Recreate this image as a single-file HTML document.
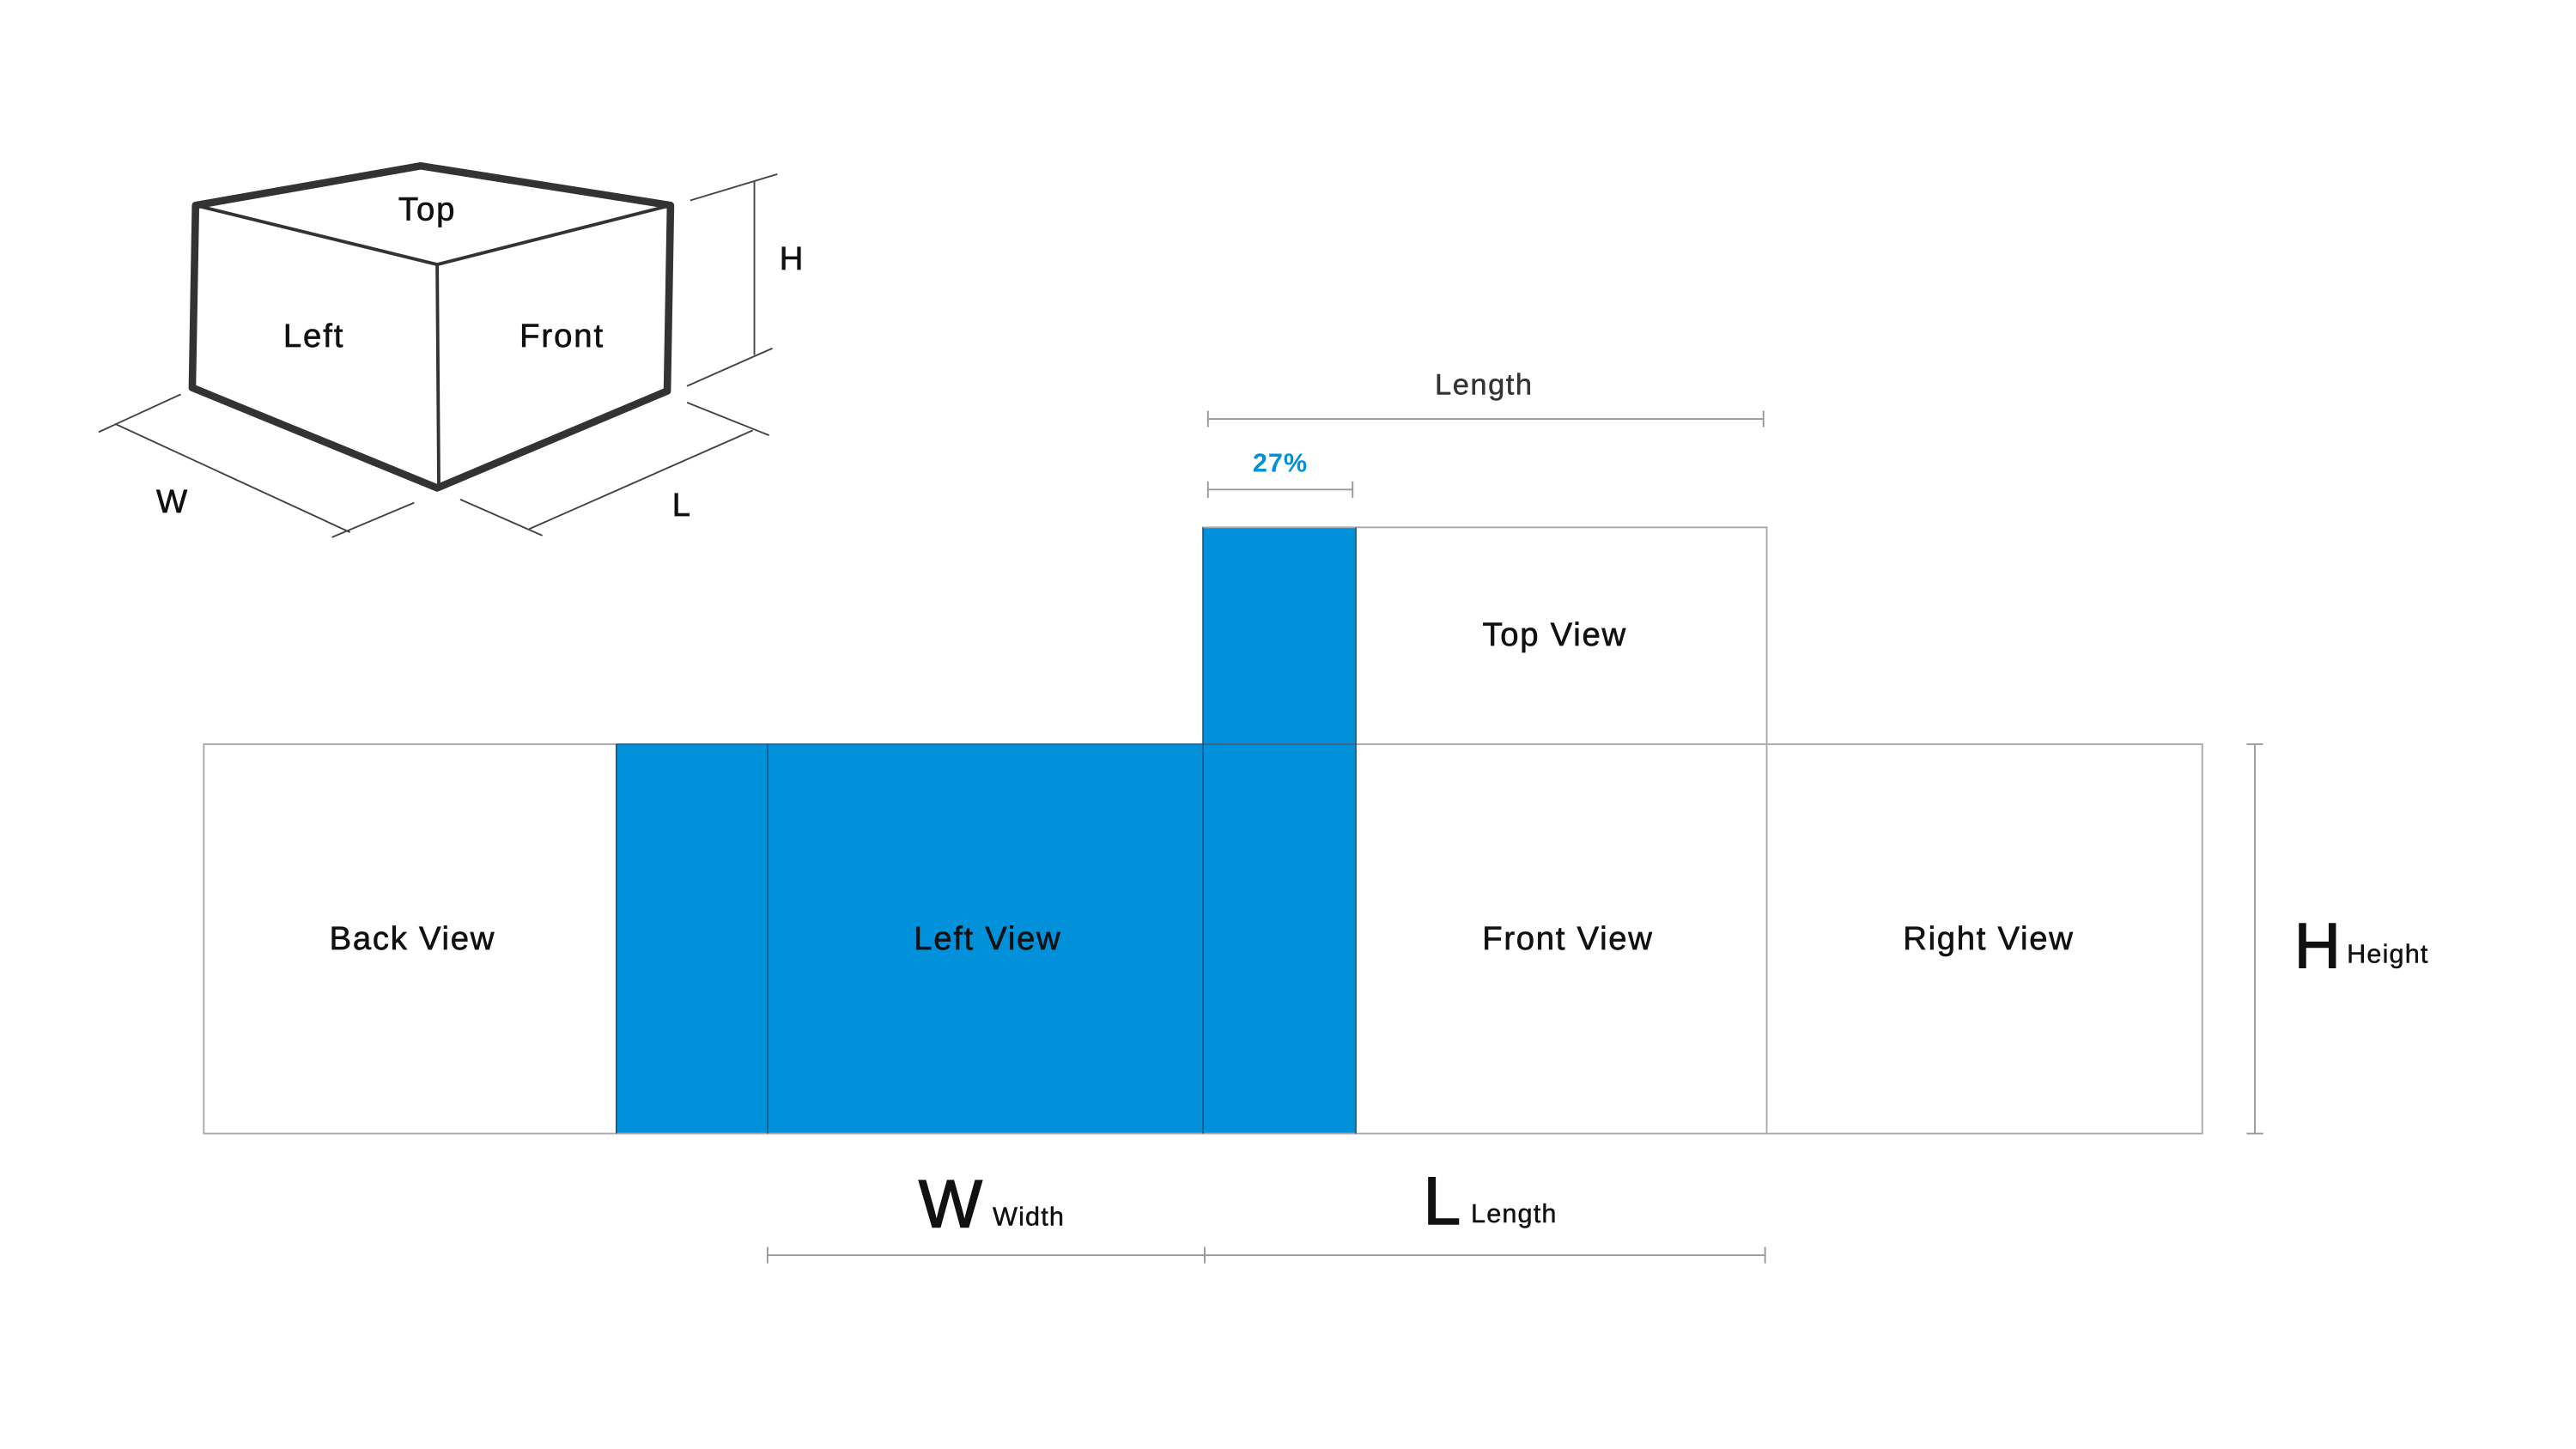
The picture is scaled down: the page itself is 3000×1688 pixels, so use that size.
<!DOCTYPE html>
<html><head><meta charset="utf-8"><style>html,body{margin:0;padding:0;background:#fff;}svg{display:block}</style></head>
<body>
<svg width="3000" height="1688" viewBox="0 0 1567.4 882" preserveAspectRatio="none" xmlns="http://www.w3.org/2000/svg" font-family="Liberation Sans, sans-serif">
<rect width="1567.4" height="882" fill="#fff"/>
<!-- cube -->
<g stroke="#333" fill="none" stroke-linejoin="round">
<polygon points="119,125 256,101 408,125 406,238 266,297 117,236" stroke-width="4.5"/>
<polyline points="119,125 266,161 408,125" stroke-width="2"/>
<line x1="266" y1="161" x2="267" y2="297" stroke-width="2"/>
</g>
<g stroke="#444" stroke-width="1" fill="none">
<line x1="459" y1="110" x2="459" y2="216"/>
<line x1="420" y1="122" x2="473" y2="106"/>
<line x1="418" y1="235" x2="470" y2="212"/>
<line x1="70" y1="258" x2="213" y2="324"/>
<line x1="60" y1="263" x2="110" y2="240"/>
<line x1="202" y1="327" x2="252" y2="306"/>
<line x1="322" y1="322" x2="458" y2="262"/>
<line x1="280" y1="304" x2="330" y2="326"/>
<line x1="418" y1="245" x2="468" y2="265"/>
</g>
<g fill="#111" stroke="#111" stroke-width="0.35" font-size="20" letter-spacing="1" text-anchor="middle">
<text x="260" y="134">Top</text>
<text x="191" y="211">Left</text>
<text x="342" y="211">Front</text>
<text x="482" y="164">H</text>
<text x="105" y="312">W</text>
<text x="415" y="314">L</text>
</g>
<!-- net -->
<rect x="375" y="453" width="450" height="237" fill="#0091da"/>
<rect x="732" y="321" width="93" height="132" fill="#0091da"/>
<g fill="none" stroke="#aaa" stroke-width="1">
<rect x="124" y="453" width="1216" height="237"/>
<rect x="732" y="321" width="343" height="132"/>
<line x1="1075" y1="453" x2="1075" y2="690"/>
</g>
<g stroke="#1b4f78" stroke-width="0.8">
<line x1="375" y1="453" x2="375" y2="690"/>
<line x1="467" y1="453" x2="467" y2="690"/>
<line x1="732" y1="321" x2="732" y2="690"/>
<line x1="825" y1="321" x2="825" y2="690"/>
<line x1="375" y1="453" x2="825" y2="453"/>
</g>
<g fill="#111" stroke="#111" stroke-width="0.35" font-size="20" letter-spacing="0.9" text-anchor="middle">
<text x="251" y="578">Back View</text>
<text x="601" y="578">Left View</text>
<text x="954" y="578">Front View</text>
<text x="1210" y="578">Right View</text>
<text x="946" y="393">Top View</text>
</g>
<!-- dims -->
<g stroke="#999" stroke-width="1">
<line x1="735" y1="255" x2="1073" y2="255"/><line x1="735" y1="250" x2="735" y2="260"/><line x1="1073" y1="250" x2="1073" y2="260"/>
<line x1="735" y1="298" x2="823" y2="298"/><line x1="735" y1="293" x2="735" y2="303"/><line x1="823" y1="293" x2="823" y2="303"/>
<line x1="467" y1="764" x2="1074" y2="764"/><line x1="467" y1="759" x2="467" y2="769"/><line x1="733" y1="759" x2="733" y2="769"/><line x1="1074" y1="759" x2="1074" y2="769"/>
<line x1="1372" y1="453" x2="1372" y2="690"/><line x1="1367" y1="453" x2="1377" y2="453"/><line x1="1367" y1="690" x2="1377" y2="690"/>
</g>
<text x="903" y="240" font-size="18" letter-spacing="0.8" fill="#333" stroke="#333" stroke-width="0.25" text-anchor="middle">Length</text>
<text x="779" y="287" font-size="16" font-weight="bold" letter-spacing="0.5" fill="#0091da" text-anchor="middle">27%</text>
<g fill="#111">
<text x="559" y="747" font-size="41" stroke="#111" stroke-width="0.8">W</text><text x="604" y="746" font-size="16" letter-spacing="0.6" stroke="#111" stroke-width="0.25">Width</text>
<text x="866" y="745" font-size="41" stroke="#111" stroke-width="0.8">L</text><text x="895" y="744" font-size="16" letter-spacing="0.6" stroke="#111" stroke-width="0.25">Length</text>
<text x="1396" y="589" font-size="39" stroke="#111" stroke-width="0.8">H</text><text x="1428" y="586" font-size="16" letter-spacing="0.6" stroke="#111" stroke-width="0.25">Height</text>
</g>
</svg>
</body></html>
